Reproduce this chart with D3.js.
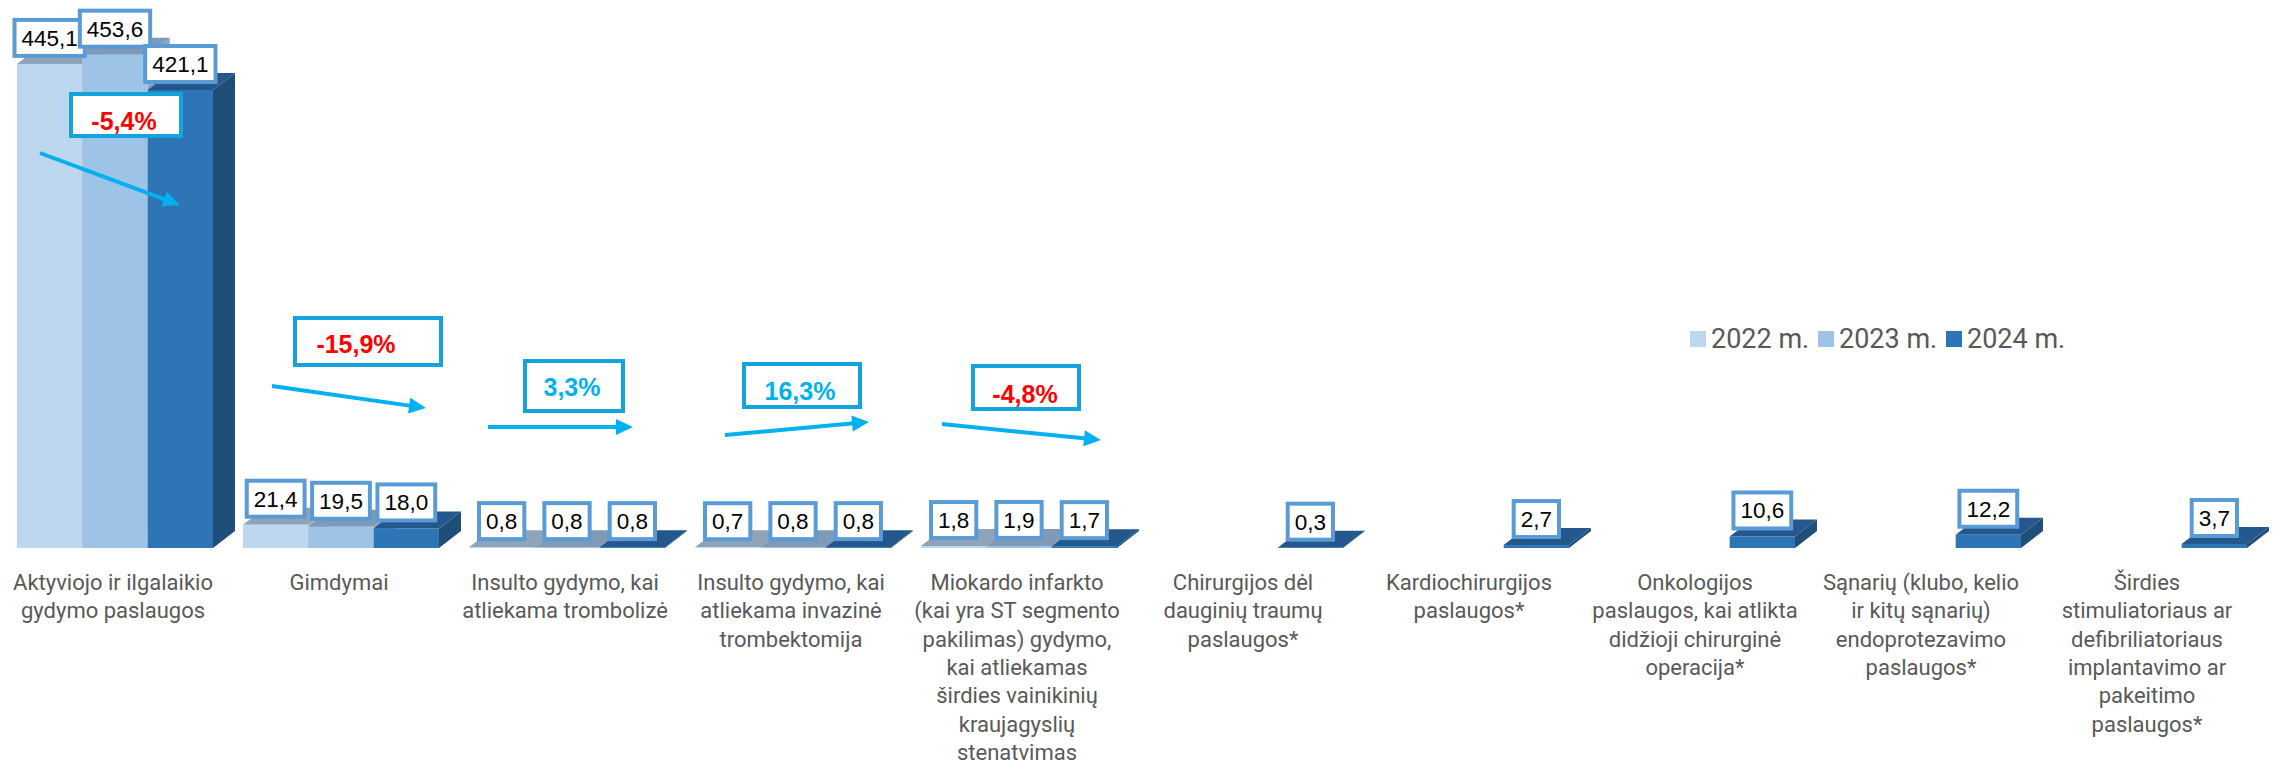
<!DOCTYPE html>
<html>
<head>
<meta charset="utf-8">
<script src="https://cdn.jsdelivr.net/npm/d3@7"></script>
<style>
body{margin:0;background:#fff;}
svg{display:block;}
</style>
</head>
<body>
<div id="main_div"></div>
<script>
let categories=["Aktyviojo","Gimdymai","Insultas tromb.","Insultas trombekt.","Miokardo infarktas","Chirurgija traumos","Kardiochirurgija","Onkologija","Sanariai","Sirdies stimuliatorius"];
let labelLines=[
    ["Aktyviojo ir ilgalaikio","gydymo paslaugos"],
    ["Gimdymai"],
    ["Insulto gydymo, kai","atliekama trombolizė"],
    ["Insulto gydymo, kai","atliekama invazinė","trombektomija"],
    ["Miokardo infarkto","(kai yra ST segmento","pakilimas) gydymo,","kai atliekamas","širdies vainikinių","kraujagyslių","stenatvimas"],
    ["Chirurgijos dėl","dauginių traumų","paslaugos*"],
    ["Kardiochirurgijos","paslaugos*"],
    ["Onkologijos","paslaugos, kai atlikta","didžioji chirurginė","operacija*"],
    ["Sąnarių (klubo, kelio","ir kitų sąnarių)","endoprotezavimo","paslaugos*"],
    ["Širdies","stimuliatoriaus ar","defibriliatoriaus","implantavimo ar","pakeitimo","paslaugos*"]
];
let years=["2022 m.","2023 m.","2024 m."];
let v2022=[445.1,21.4,0.8,0.7,1.8,null,null,null,null,null];
let v2023=[453.6,19.5,0.8,0.8,1.9,null,null,null,null,null];
let v2024=[421.1,18.0,0.8,0.8,1.7,0.3,2.7,10.6,12.2,3.7];
let changes=[-5.4,-15.9,3.3,16.3,-4.8];

/** annotation placement, relative to the start of each band */
let annotLayout=[
    {box:[69,92,114,46],tx:124,ty:130,arrow:[40,153,180,205]},
    {box:[67,316,150,51],tx:130,ty:353,arrow:[46,386,200,408]},
    {box:[71,359,102,54],tx:120,ty:396,arrow:[36,427,181,427]},
    {box:[64,362,120,47],tx:122,ty:400,arrow:[47,435,191,422]},
    {box:[67,364,110,47],tx:121,ty:403,arrow:[38,424,197,440]}
];

let size=[2277,765];
let depth=[22,17];
let frontColor=["#BDD7EE","#9DC3E6","#2E75B6"];
let topColor=["#8FA4B8","#7E9AB6","#24578B"];
let sideColor=["#9AB2C8","#86A5C4","#1F4E79"];
let x0,x1,yScale,svg;
let fmt=d3.formatLocale({decimal:",",thousands:" ",grouping:[3],currency:["","€"],minus:"-"}).format(".1f");

chart();

function chart(){
    createSVG();
    makeScales();
    drawBars();
    drawValueLabels();
    drawCategoryLabels();
    drawChanges();
    drawLegend();
}

function createSVG(){
    svg=d3.select("#main_div")
        .append("svg")
        .attr("width",size[0])
        .attr("height",size[1])
        .attr("id","main_svg");
}

function makeScales(){
    x0=d3.scaleBand()
        .domain(categories)
        .range([0,2260]);
    x1=d3.scaleBand()
        .domain(years)
        .range([17,213]);
    yScale=d3.scaleLinear()
        .domain([0,500])
        .range([548,4.2]);
}

function barData(){
    let series=[v2022,v2023,v2024];
    let out=[];
    categories.forEach(function(c,i){
        series.forEach(function(s,j){
            if(s[i]==null) return;
            let x=x0(c)+x1(years[j]);
            out.push({cat:c,s:j,v:s[i],x:x,w:x1.bandwidth(),yT:yScale(s[i]),yB:yScale(0)});
        });
    });
    return out;
}

function pts(a){
    return a.map(function(p){return p.join(",")}).join(" ");
}

function drawBars(){
    let dx=depth[0],dy=depth[1];
    let bars=svg.append("g").attr("id","bars")
        .selectAll("g")
        .data(barData())
        .enter()
        .append("g");

    bars.append("polygon")
        .attr("points",function(d){
            return pts([[d.x+d.w,d.yB],[d.x+d.w+dx,d.yB-dy],[d.x+d.w+dx,d.yT-dy],[d.x+d.w,d.yT]]);
        })
        .attr("fill",function(d){return sideColor[d.s]});

    bars.append("polygon")
        .attr("points",function(d){
            return pts([[d.x,d.yT],[d.x+dx,d.yT-dy],[d.x+d.w+dx,d.yT-dy],[d.x+d.w,d.yT]]);
        })
        .attr("fill",function(d){return topColor[d.s]});

    bars.append("rect")
        .attr("x",function(d){return d.x})
        .attr("y",function(d){return d.yT})
        .attr("width",function(d){return d.w})
        .attr("height",function(d){return d.yB-d.yT})
        .attr("fill",function(d){return frontColor[d.s]});
}

function drawValueLabels(){
    let lab=svg.append("g").attr("id","value_labels")
        .selectAll("g")
        .data(barData())
        .enter()
        .append("g")
        .attr("transform",function(d){return "translate("+(d.x+d.w/2)+","+(d.yT-26)+")"});

    lab.append("rect");
    lab.append("text")
        .text(function(d){return fmt(d.v)})
        .attr("text-anchor","middle")
        .attr("y",8)
        .style("font-family","'Liberation Sans',Arial,sans-serif")
        .style("font-size","22.5px")
        .attr("fill","#000");

    lab.each(function(){
        let g=d3.select(this);
        let w=g.select("text").node().getComputedTextLength()+14;
        g.select("rect")
            .attr("x",-w/2)
            .attr("y",-18)
            .attr("width",w)
            .attr("height",36)
            .attr("fill","#fff")
            .attr("stroke","#5B9BD5")
            .attr("stroke-width",4);
    });
}

function drawCategoryLabels(){
    let g=svg.append("g").attr("id","cat_labels");
    categories.forEach(function(c,i){
        let t=g.append("text")
            .attr("text-anchor","middle")
            .attr("fill","#595959")
            .style("font-family","Roboto,'Noto Sans',sans-serif")
            .style("font-size","22px");
        labelLines[i].forEach(function(line,k){
            t.append("tspan")
                .attr("x",x0(c)+x0.bandwidth()/2)
                .attr("y",590+k*28.3)
                .text(line);
        });
    });
}

function drawChanges(){
    let g=svg.append("g").attr("id","changes");
    changes.forEach(function(p,i){
        let L=annotLayout[i];
        let bx=x0(categories[i]);
        g.append("rect")
            .attr("x",bx+L.box[0]+2)
            .attr("y",L.box[1]+2)
            .attr("width",L.box[2]-4)
            .attr("height",L.box[3]-4)
            .attr("fill","#fff")
            .attr("stroke","#14A3DC")
            .attr("stroke-width",4);
        g.append("text")
            .attr("x",bx+L.tx)
            .attr("y",L.ty)
            .attr("text-anchor","middle")
            .style("font-family","'Liberation Sans',Arial,sans-serif")
            .style("font-weight","bold")
            .style("font-size","25px")
            .attr("fill",p<0?"#FF0000":"#00B0F0")
            .text(fmt(p)+"%");
        drawArrow(g,bx+L.arrow[0],L.arrow[1],bx+L.arrow[2],L.arrow[3]);
    });
}

function drawArrow(g,xa,ya,xb,yb){
    let len=Math.hypot(xb-xa,yb-ya);
    let ux=(xb-xa)/len,uy=(yb-ya)/len;
    let hl=17,hw=8;
    let bx=xb-ux*hl,by=yb-uy*hl;
    g.append("line")
        .attr("x1",xa).attr("y1",ya)
        .attr("x2",bx+ux*2).attr("y2",by+uy*2)
        .attr("stroke","#00B0F0")
        .attr("stroke-width",4);
    g.append("polygon")
        .attr("points",pts([[xb,yb],[bx-uy*hw,by+ux*hw],[bx+uy*hw,by-ux*hw]]))
        .attr("fill","#00B0F0");
}

function drawLegend(){
    let lx=d3.scalePoint().domain(years).range([1690,1946]);
    let leg=svg.append("g").attr("id","legend")
        .selectAll("g")
        .data(years)
        .enter()
        .append("g")
        .attr("transform",function(d){return "translate("+lx(d)+",331)"});
    leg.append("rect")
        .attr("width",16)
        .attr("height",16)
        .attr("fill",function(d,i){return frontColor[i]});
    leg.append("text")
        .attr("x",21)
        .attr("y",17)
        .text(function(d){return d})
        .attr("fill","#595959")
        .style("font-family","Roboto,'Noto Sans',sans-serif")
        .style("font-size","27px");
}
</script>
</body>
</html>
